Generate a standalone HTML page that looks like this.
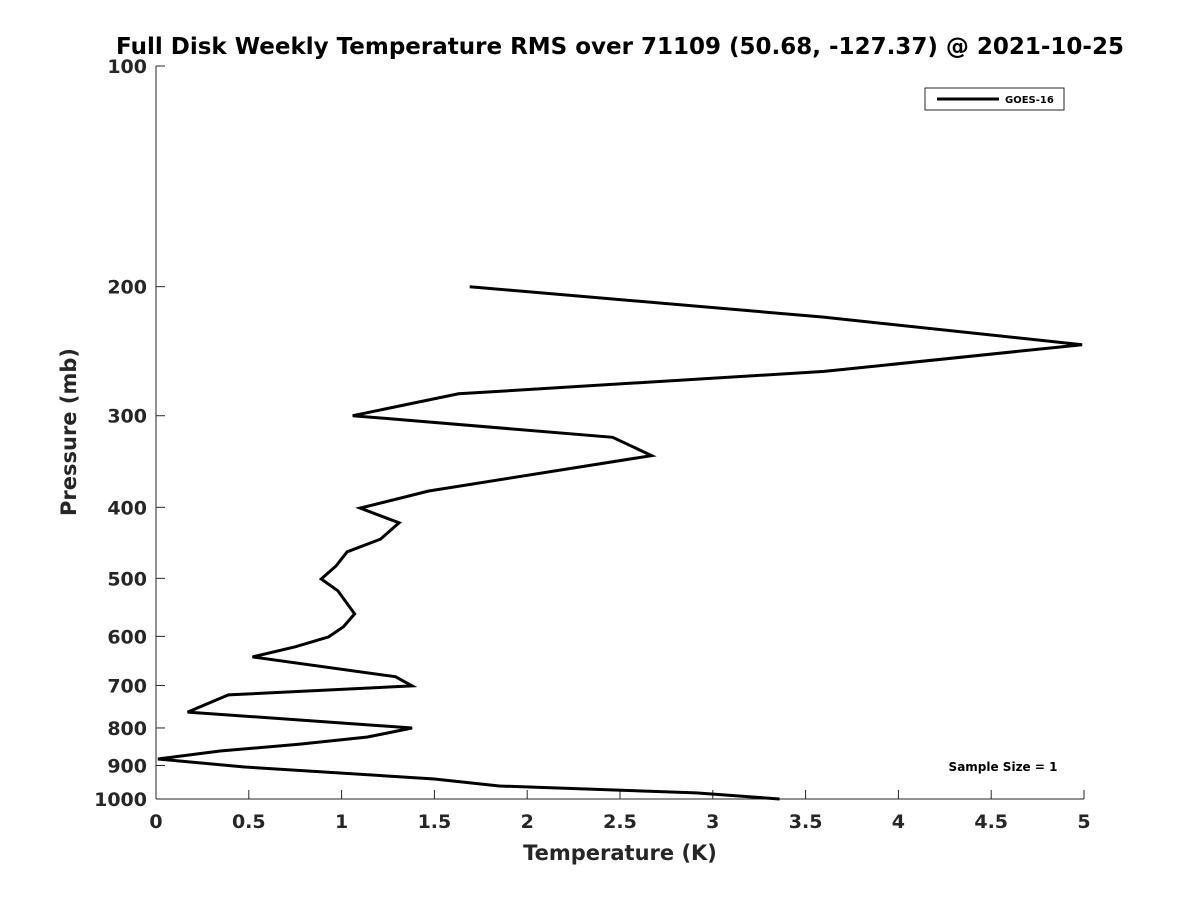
<!DOCTYPE html>
<html><head><meta charset="utf-8"><style>
body{margin:0;background:#fff}
svg text{font-family:"DejaVu Sans","Liberation Sans",sans-serif;font-weight:bold;fill:#262626}
</style></head><body>
<svg id="chart" width="1200" height="900" viewBox="0 0 1200 900" xmlns="http://www.w3.org/2000/svg">
<rect width="1200" height="900" fill="#fff"/>
<text x="620" y="54" text-anchor="middle" font-size="23" style="fill:#000">Full Disk Weekly Temperature RMS over 71109 (50.68, -127.37) @ 2021-10-25</text>
<g id="axes"></g>
<text x="620" y="860" text-anchor="middle" font-size="21">Temperature (K)</text>
<text x="0" y="0" transform="translate(76,432) rotate(-90)" text-anchor="middle" font-size="21">Pressure (mb)</text>
<g>
<rect x="925" y="88" width="139" height="22" fill="#fff" stroke="#262626" stroke-width="1"/>
<line x1="937" y1="99" x2="999" y2="99" stroke="#000" stroke-width="3"/>
<text x="1005" y="103" font-size="10" style="fill:#000">GOES-16</text>
</g>
<text x="1003" y="771" text-anchor="middle" font-size="12" style="fill:#000">Sample Size = 1</text>
</svg>
<script>
const temps=[1.69,3.59,4.99,3.60,1.63,1.06,2.46,2.67,1.47,1.10,1.31,1.21,1.03,0.97,0.89,0.98,1.07,1.01,0.93,0.75,0.52,1.29,1.38,0.39,0.17,1.38,1.14,0.77,0.345,0.01,0.47,1.50,1.85,2.91,3.36];
const pressures=[200,220,240,261,280,300,321,340,380,401,420,442,460,481,501,520,559,582,601,620,640,681,701,721,761,800,823,842,860,882,904,939,960,981,1000];
const xTicks=[0,0.5,1,1.5,2,2.5,3,3.5,4,4.5,5];
const yTicks=[100,200,300,400,500,600,700,800,900,1000];
const NS="http://www.w3.org/2000/svg";
const X0=156,X1=1084,Y0=66,Y1=799;
const xs=v=>X0+(v/5)*(X1-X0);
const ys=p=>Y0+Math.log10(p/100)*(Y1-Y0);
const svg=document.getElementById('chart');
const ax=document.getElementById('axes');
function mk(t,a){const e=document.createElementNS(NS,t);for(const k in a)e.setAttribute(k,a[k]);return e;}
const xl=mk('line',{x1:X0,y1:Y1,x2:X1,y2:Y1,stroke:'#262626','stroke-width':1});


ax.appendChild(xl);
const yl=mk('line',{x1:X0,y1:Y0,x2:X0,y2:Y1,stroke:'#262626','stroke-width':1});


ax.appendChild(yl);
xTicks.forEach(v=>{
 const x=xs(v);
 ax.appendChild(mk('line',{x1:x,y1:Y1,x2:x,y2:Y1-9,stroke:'#262626'}));
 const t=mk('text',{x:x,y:Y1+29,'text-anchor':'middle','font-size':19});
 
 
 t.textContent=v;ax.appendChild(t);
});
yTicks.forEach(p=>{
 const y=ys(p);
 ax.appendChild(mk('line',{x1:X0,y1:y,x2:X0+9,y2:y,stroke:'#262626'}));
 const t=mk('text',{x:X0-9,y:y+7,'text-anchor':'end','font-size':19});
 
 
 t.textContent=p;ax.appendChild(t);
});
const pts=temps.map((t,i)=>xs(t).toFixed(1)+','+ys(pressures[i]).toFixed(1)).join(' ');
const pl=mk('polyline',{points:pts,fill:'none',stroke:'#000','stroke-width':3,'stroke-linejoin':'miter'});


svg.appendChild(pl);
</script>
</body></html>
